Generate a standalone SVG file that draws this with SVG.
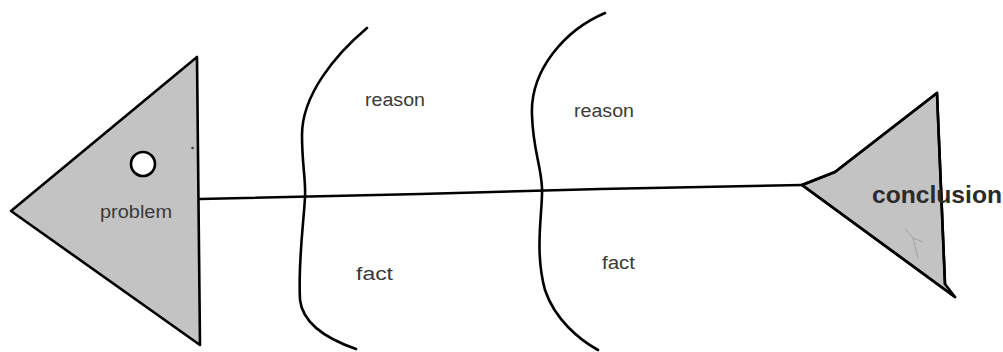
<svg xmlns="http://www.w3.org/2000/svg" width="1003" height="352" viewBox="0 0 1003 352">
  <style>
    .shape { fill: #c3c3c3; stroke: #000; stroke-width: 2.6; stroke-linejoin: round; }
    .line { fill: none; stroke: #000; stroke-width: 2.6; stroke-linecap: round; stroke-linejoin: round; }
    .lbl { font-family: "Liberation Sans", Arial, sans-serif; font-size: 18px; fill: #3a3a3a; }
    .bold { font-family: "Liberation Sans", Arial, sans-serif; font-size: 24px; font-weight: bold; fill: #2a2a2a; }
  </style>
  <rect width="1003" height="352" fill="#ffffff"/>
  <g id="connectors">
    <path class="line" d="M200,199 L420,194 L600,189 L802,185"/>
    <path id="bone1" class="line" d="M367,28 C335,55 302,95 302,135 C302,165 306,180 305,197 C304,220 298,260 300,300 C303,325 330,340 356,349"/>
    <path id="bone2" class="line" d="M605,13 C565,30 530,70 532,115 C533,150 541,165 542,188 C543,210 534,250 545,290 C555,320 580,340 598,350"/>
  </g>
  <g id="problem">
    <polygon class="shape" points="11,211 197,57 200,345"/>
    <circle cx="143" cy="164" r="12" fill="#ffffff" stroke="#000" stroke-width="2.6"/>
    <circle cx="192.5" cy="148" r="1.2" fill="#333"/>
    <text class="lbl" x="100" y="218" textLength="72" lengthAdjust="spacingAndGlyphs">problem</text>
  </g>
  <g id="conclusion">
    <path class="shape" d="M802,185 L835,172 L937,93 L945,284 L955,297 Z" stroke="none"/>
    <path class="line" d="M802,185 L835,172 L937,93 L945,284"/>
    <path class="line" d="M802,185 L955,297"/>
    <path d="M905,229 L913,238 L923,242 M913,238 L918,258" fill="none" stroke="#8a8a8a" stroke-width="1" opacity="0.6"/>
    <text class="bold" x="872" y="203" textLength="130" lengthAdjust="spacingAndGlyphs">conclusion</text>
  </g>
  <g id="reason1">
    <text class="lbl" x="365" y="106" textLength="60" lengthAdjust="spacingAndGlyphs">reason</text>
  </g>
  <g id="reason2">
    <text class="lbl" x="574" y="117" textLength="60" lengthAdjust="spacingAndGlyphs">reason</text>
  </g>
  <g id="fact1">
    <text class="lbl" x="356" y="280" textLength="37" lengthAdjust="spacingAndGlyphs">fact</text>
  </g>
  <g id="fact2">
    <text class="lbl" x="602" y="269" textLength="33" lengthAdjust="spacingAndGlyphs">fact</text>
  </g>
</svg>
